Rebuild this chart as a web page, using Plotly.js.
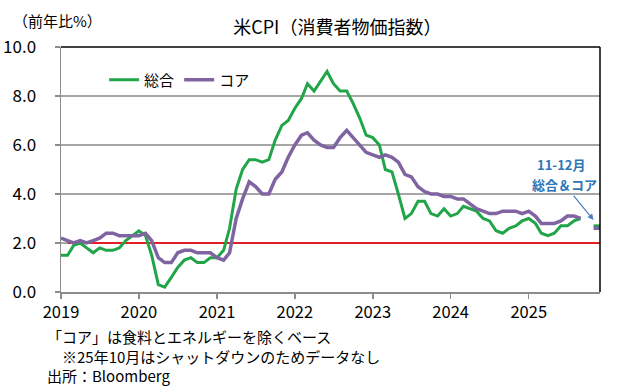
<!DOCTYPE html>
<html><head><meta charset="utf-8">
<script src="https://cdn.plot.ly/plotly-3.0.1.min.js"></script>
<style>body{margin:0;background:#fff}#c{width:627px;height:392px}</style>
</head><body><div id="c"></div>
<script>
// Monthly dates Jan 2019 - Dec 2025
const months = [];
for (let y = 2019; y <= 2025; y++) for (let m = 1; m <= 12; m++) months.push(y + '-' + String(m).padStart(2, '0') + '-01');

// Headline CPI YoY (%)
const headline = [
  1.5,1.5,1.9,2.0,1.8,1.6,1.8,1.7,1.7,1.8,2.1,2.3,
  2.5,2.3,1.5,0.3,0.2,0.6,1.0,1.3,1.4,1.2,1.2,1.4,
  1.4,1.7,2.6,4.2,5.0,5.4,5.4,5.3,5.4,6.2,6.8,7.0,
  7.5,7.9,8.5,8.2,8.6,9.0,8.5,8.2,8.2,7.7,7.1,6.4,
  6.3,6.0,5.0,4.9,4.0,3.0,3.2,3.7,3.7,3.2,3.1,3.4,
  3.1,3.2,3.5,3.4,3.3,3.0,2.9,2.5,2.4,2.6,2.7,2.9,
  3.0,2.8,2.4,2.3,2.4,2.7,2.7,2.9,3.0,null,2.7,2.7
];
// Core CPI YoY (%)
const core = [
  2.2,2.1,2.0,2.1,2.0,2.1,2.2,2.4,2.4,2.3,2.3,2.3,
  2.3,2.4,2.1,1.4,1.2,1.2,1.6,1.7,1.7,1.6,1.6,1.6,
  1.4,1.3,1.6,3.0,3.8,4.5,4.3,4.0,4.0,4.6,4.9,5.5,
  6.0,6.4,6.5,6.2,6.0,5.9,5.9,6.3,6.6,6.3,6.0,5.7,
  5.6,5.5,5.6,5.5,5.3,4.8,4.7,4.3,4.1,4.0,4.0,3.9,
  3.9,3.8,3.8,3.6,3.4,3.3,3.2,3.2,3.3,3.3,3.3,3.2,
  3.3,3.1,2.8,2.8,2.8,2.9,3.1,3.1,3.0,null,2.6,2.6
];
const targetX = ['2019-02-01', '2025-12-01'];
const targetY = [2.0, 2.0];
const yTicks = [0, 2, 4, 6, 8, 10];
const yTickText = ['0.0', '2.0', '4.0', '6.0', '8.0', '10.0'];
const xTicks = ['2019-01-01','2020-01-01','2021-01-01','2022-01-01','2023-01-01','2024-01-01','2025-01-01'];
const xTickText = ['2019','2020','2021','2022','2023','2024','2025'];
const notes = ['「コア」は食料とエネルギーを除くベース', '　※25年10月はシャットダウンのためデータなし', '出所：Bloomberg'];

const F = '"Noto Sans CJK JP", "Noto Sans", sans-serif';
const traces = [
  {x: targetX, y: targetY, mode: 'lines', line: {color: '#e31e24', width: 2}, showlegend: false, hoverinfo: 'skip'},
  {x: months, y: headline, name: '総合', mode: 'lines', line: {color: '#21a548', width: 3}, connectgaps: false},
  {x: months, y: core, name: 'コア', mode: 'lines', line: {color: '#8064a2', width: 3.5}, connectgaps: false}
];
const layout = {
  width: 627, height: 392,
  margin: {l: 61, r: 27, t: 47, b: 100},
  paper_bgcolor: '#fff', plot_bgcolor: '#fff',
  font: {family: F, color: '#000'},
  title: {text: '米CPI（消費者物価指数）', font: {size: 18, family: F}, x: 0.538, xanchor: 'center', y: 0.93, yanchor: 'middle'},
  showlegend: true,
  legend: {orientation: 'h', x: 0.08, y: 0.865, xanchor: 'left', yanchor: 'middle', font: {size: 15, family: F}, bgcolor: 'rgba(0,0,0,0)', traceorder: 'normal'},
  xaxis: {
    type: 'date', range: ['2019-01-01', '2025-12-01'],
    tickvals: xTicks, ticktext: xTickText, tickfont: {size: 16.5},
    ticks: 'outside', ticklen: 5, tickcolor: '#8c8c8c', tickwidth: 1.5,
    showline: true, linecolor: '#8c8c8c', linewidth: 1.5,
    showgrid: false, zeroline: false, ticklabelstandoff: 0
  },
  yaxis: {
    range: [0, 10], tickvals: yTicks, ticktext: yTickText, tickfont: {size: 17},
    ticks: 'outside', ticklen: 5, tickcolor: '#8c8c8c', tickwidth: 1.5,
    showline: true, linecolor: '#8c8c8c', linewidth: 1.5,
    showgrid: true, gridcolor: '#a6a6a6', gridwidth: 1.5, zeroline: false,
    ticklabelstandoff: 15
  },
  shapes: [
    {type: 'line', xref: 'paper', yref: 'paper', x0: 0, x1: 1, y0: 1, y1: 1, line: {color: '#000', width: 1.5}},
    {type: 'line', xref: 'paper', yref: 'paper', x0: 1, x1: 1, y0: 0, y1: 1, line: {color: '#000', width: 1.5}}
  ],
  annotations: [
    {xref: 'paper', yref: 'paper', x: -0.093, y: 1.11, xanchor: 'left', yanchor: 'middle', text: '（前年比%）', showarrow: false, font: {size: 15}},
    {xref: 'paper', yref: 'paper', x: 0.928, y: 0.519, xanchor: 'center', yanchor: 'middle', text: '<b>11-12月</b>', showarrow: false, font: {size: 13, color: '#2e75b6'}},
    {x: '2025-11-01', y: 2.94, xref: 'x', yref: 'y', text: '<b>総合＆コア</b>', font: {size: 13, color: '#2e75b6'},
     showarrow: true, arrowhead: 2, arrowsize: 1, arrowwidth: 1.2, arrowcolor: '#4a7fc0', ax: -29, ay: -35},
    {xref: 'paper', yref: 'paper', x: -0.03, y: -0.13, xanchor: 'left', yanchor: 'top', align: 'left', text: notes.join('<br>'), showarrow: false, font: {size: 15}}
  ]
};
Plotly.newPlot('c', traces, layout, {staticPlot: true});
</script></body></html>
